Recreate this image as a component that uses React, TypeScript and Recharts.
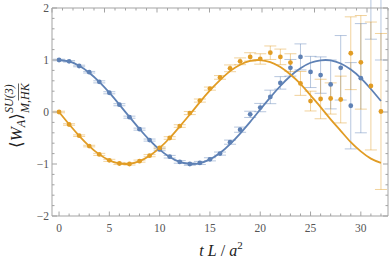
import React from 'react'
import { ComposedChart, Line, Scatter, XAxis, YAxis, ErrorBar } from 'recharts'

// t L / a^2 sample points
const tValues = [0, 1, 2, 3, 4, 5, 6, 7, 8, 9, 10, 11, 12, 13, 14, 15, 16, 17, 18, 19, 20, 21, 22, 23, 24, 25, 26, 27, 28, 29, 30, 31, 32]

const blueY = [1.0, 0.975, 0.885, 0.765, 0.58, 0.37, 0.14, -0.1, -0.33, -0.54, -0.72, -0.86, -0.96, -1.0, -0.98, -0.91, -0.8, -0.58, -0.34, -0.045, 0.085, 0.29, 0.56, 0.85, 1.06, 0.77, 0.71, 0.53, 0.85, 0.12, 0.65, 2.4, 2.3]
const blueErr = [0.015, 0.015, 0.015, 0.015, 0.02, 0.02, 0.02, 0.02, 0.02, 0.02, 0.025, 0.025, 0.025, 0.025, 0.03, 0.03, 0.03, 0.04, 0.05, 0.06, 0.08, 0.13, 0.12, 0.16, 0.25, 0.3, 0.35, 0.47, 0.62, 0.83, 1.05, 1.0, 1.3]

const orangeY = [0, -0.24, -0.455, -0.655, -0.815, -0.93, -0.99, -1.0, -0.945, -0.84, -0.69, -0.5, -0.27, -0.02, 0.22, 0.45, 0.665, 0.84, 0.975, 1.06, 1.02, 1.14, 1.06, 0.95, 0.55, 0.21, 0.25, 0.26, 0.24, 1.13, 0.955, 0.5, 0.01]
const orangeErr = [0.015, 0.015, 0.015, 0.015, 0.02, 0.02, 0.02, 0.02, 0.02, 0.02, 0.02, 0.025, 0.025, 0.03, 0.03, 0.03, 0.035, 0.065, 0.065, 0.08, 0.1, 0.13, 0.15, 0.17, 0.23, 0.19, 0.38, 0.3, 0.45, 0.7, 0.9, 1.23, 1.5]

// fitted curves at each t
const blueFit = [1.0, 0.972, 0.889, 0.756, 0.579, 0.371, 0.142, -0.095, -0.327, -0.54, -0.723, -0.866, -0.961, -0.999, -0.982, -0.91, -0.79, -0.618, -0.414, -0.19, 0.048, 0.282, 0.5, 0.692, 0.841, 0.947, 0.994, 0.993, 0.932, 0.816, 0.653, 0.442, 0.211]
const orangeFit = [0, -0.236, -0.458, -0.655, -0.815, -0.929, -0.99, -0.996, -0.945, -0.842, -0.691, -0.5, -0.277, -0.048, 0.191, 0.415, 0.613, 0.786, 0.91, 0.982, 0.999, 0.96, 0.866, 0.722, 0.541, 0.321, 0.095, -0.143, -0.362, -0.579, -0.757, -0.897, -0.978]

const xTicks = [0, 1, 2, 3, 4, 5, 6, 7, 8, 9, 10, 11, 12, 13, 14, 15, 16, 17, 18, 19, 20, 21, 22, 23, 24, 25, 26, 27, 28, 29, 30, 31, 32]
const xLabels = [0, 5, 10, 15, 20, 25, 30]
const yTicks = [-2, -1.8, -1.6, -1.4, -1.2, -1, -0.8, -0.6, -0.4, -0.2, 0, 0.2, 0.4, 0.6, 0.8, 1, 1.2, 1.4, 1.6, 1.8, 2]
const yLabels = [-2, -1, 0, 1, 2]

const data = tValues.map((t, i) => ({
    t,
    blue: blueY[i],
    blueErr: blueErr[i],
    orange: orangeY[i],
    orangeErr: orangeErr[i],
    blueFit: blueFit[i],
    orangeFit: orangeFit[i],
}))

const BLUE = '#5e81b5'
const ORANGE = '#e19c24'
const FRAME = '#a3a3a3'
const SERIF = '"Liberation Serif", "DejaVu Serif", serif'

const fmt = (v: number) => (v < 0 ? '\u2212' + Math.abs(v) : String(v))

const BottomTick = (props: any) => {
    const { x, y, payload } = props
    const major = xLabels.includes(payload.value)
    return (
        <g>
            <line x1={x} x2={x} y1={y} y2={y - (major ? 4.5 : 2.5)} stroke={FRAME} />
            {major && (
                <text x={x} y={y + 15.5} textAnchor="middle" fontFamily={SERIF} fontSize={11.5} fill="#555">
                    {fmt(payload.value)}
                </text>
            )}
        </g>
    )
}

const TopTick = (props: any) => {
    const { x, y, payload } = props
    const major = xLabels.includes(payload.value)
    return <line x1={x} x2={x} y1={y} y2={y + (major ? 4.5 : 2.5)} stroke={FRAME} />
}

const LeftTick = (props: any) => {
    const { x, y, payload } = props
    const major = yLabels.includes(payload.value)
    return (
        <g>
            <line x1={x} x2={x + (major ? 5 : 2.5)} y1={y} y2={y} stroke={FRAME} />
            {major && (
                <text x={x - 3} y={y + 4} textAnchor="end" fontFamily={SERIF} fontSize={11.5} fill="#555">
                    {fmt(payload.value)}
                </text>
            )}
        </g>
    )
}

const RightTick = (props: any) => {
    const { x, y, payload } = props
    const major = yLabels.includes(payload.value)
    return <line x1={x} x2={x - (major ? 5 : 2.5)} y1={y} y2={y} stroke={FRAME} />
}

const dot = (color: string) => (props: any) => <circle cx={props.cx} cy={props.cy} r={2.4} fill={color} />

const App = () => {
    return (
        <div style={{ position: 'absolute', left: 0, top: 0, width: 390, height: 266 }}>
            <ComposedChart width={390} height={266} data={data} margin={{ top: 0, right: 0, bottom: 0, left: 0 }}>
                <XAxis
                    xAxisId="b"
                    dataKey="t"
                    type="number"
                    domain={[-0.7, 32.7]}
                    allowDataOverflow
                    ticks={xTicks}
                    interval={0}
                    tick={BottomTick}
                    tickLine={false}
                    tickSize={0}
                    tickMargin={0}
                    height={50}
                    axisLine={{ stroke: FRAME }}
                />
                <XAxis
                    xAxisId="top"
                    orientation="top"
                    type="number"
                    domain={[-0.7, 32.7]}
                    allowDataOverflow
                    ticks={xTicks}
                    interval={0}
                    tick={TopTick}
                    tickLine={false}
                    tickSize={0}
                    tickMargin={0}
                    height={8}
                    axisLine={{ stroke: FRAME }}
                />
                <YAxis
                    yAxisId="l"
                    type="number"
                    domain={[-2, 2]}
                    allowDataOverflow
                    ticks={yTicks}
                    interval={0}
                    tick={LeftTick}
                    tickLine={false}
                    tickSize={0}
                    tickMargin={0}
                    width={52}
                    axisLine={{ stroke: FRAME }}
                />
                <YAxis
                    yAxisId="r"
                    orientation="right"
                    type="number"
                    domain={[-2, 2]}
                    allowDataOverflow
                    ticks={yTicks}
                    interval={0}
                    tick={RightTick}
                    tickLine={false}
                    tickSize={0}
                    tickMargin={0}
                    width={2}
                    axisLine={{ stroke: FRAME }}
                />
                <Scatter xAxisId="b" yAxisId="l" dataKey="blue" shape={dot(BLUE)} isAnimationActive={false}>
                    <ErrorBar dataKey="blueErr" direction="y" width={6} stroke={BLUE} strokeOpacity={0.45} strokeWidth={1} />
                </Scatter>
                <Scatter xAxisId="b" yAxisId="l" dataKey="orange" shape={dot(ORANGE)} isAnimationActive={false}>
                    <ErrorBar dataKey="orangeErr" direction="y" width={6} stroke={ORANGE} strokeOpacity={0.45} strokeWidth={1} />
                </Scatter>
                <Line xAxisId="b" yAxisId="l" dataKey="blueFit" type="natural" dot={false} stroke={BLUE} strokeWidth={1.8} isAnimationActive={false} />
                <Line xAxisId="b" yAxisId="l" dataKey="orangeFit" type="natural" dot={false} stroke={ORANGE} strokeWidth={1.8} isAnimationActive={false} />
            </ComposedChart>
            <svg width={390} height={266} style={{ position: 'absolute', left: 0, top: 0, pointerEvents: 'none' }}>
                <text x={221} y={256} textAnchor="middle" fontFamily={SERIF} fontSize={16} fill="#222">
                    <tspan fontStyle="italic">t</tspan>
                    <tspan> </tspan>
                    <tspan fontStyle="italic">L</tspan>
                    <tspan> / </tspan>
                    <tspan fontStyle="italic">a</tspan>
                    <tspan fontSize={11} dy={-7}>2</tspan>
                </text>
                <g transform="translate(22, 148) rotate(-90)" fontFamily={SERIF} fill="#222">
                    <text x={0} y={0} fontSize={17}>
                        <tspan>{'\u27E8'}</tspan>
                        <tspan fontStyle="italic">W</tspan>
                        <tspan fontStyle="italic" fontSize={12} dy={3}>A</tspan>
                        <tspan dy={-3}>{'\u27E9'}</tspan>
                    </text>
                    <text x={35} y={-9.5} fontSize={12} fontStyle="italic">SU(3)</text>
                    <text x={35} y={6.5} fontSize={12} fontStyle="italic">M,HK</text>
                    <line x1={47.5} x2={64.5} y1={-3.5} y2={-3.5} stroke="#222" strokeWidth={0.7} />
                </g>
            </svg>
        </div>
    )
}

export default App
